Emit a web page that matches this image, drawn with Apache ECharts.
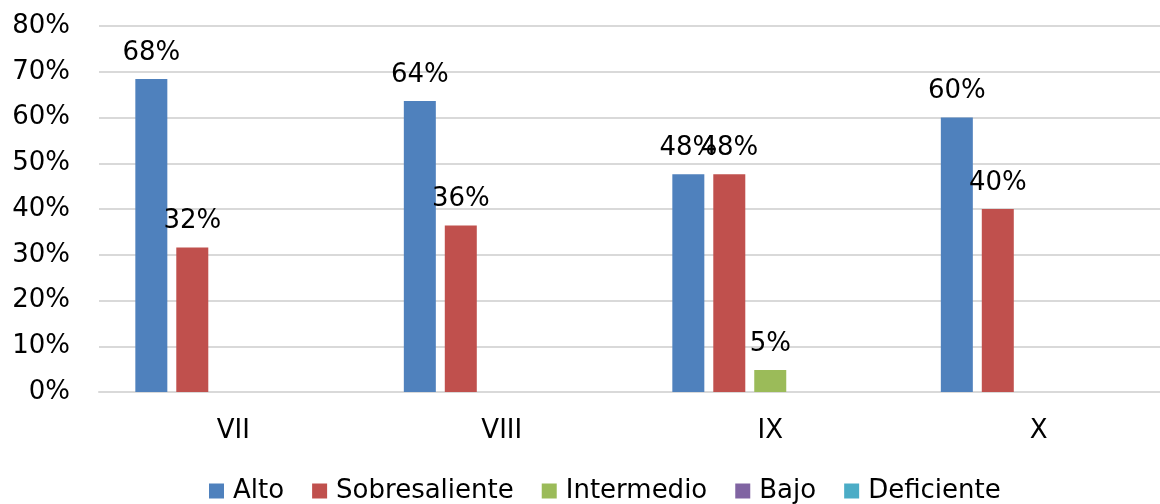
<!DOCTYPE html>
<html>
<head>
<meta charset="utf-8">
<script src="https://cdn.jsdelivr.net/npm/echarts@6/dist/echarts.min.js"></script>
<style>
  html, body { margin: 0; padding: 0; background: #fff; }
  #chart { width: 1160px; height: 504px; }
</style>
</head>
<body>
<div id="chart"></div>
<script>
// grados
const categories = ["VII", "VIII", "IX", "X"];
// porcentajes por nivel
const alto = [68.4, 63.6, 47.6, 60];
const sobresaliente = [31.6, 36.4, 47.6, 40];
const intermedio = [0, 0, 4.8, 0];
const bajo = [0, 0, 0, 0];
const deficiente = [0, 0, 0, 0];
const yTicks = [0, 10, 20, 30, 40, 50, 60, 70, 80];

const names = ["Alto", "Sobresaliente", "Intermedio", "Bajo", "Deficiente"];
const colors = ["#4F81BD", "#C0504D", "#9BBB59", "#8064A2", "#4BACC6"];
const values = [alto, sobresaliente, intermedio, bajo, deficiente];
const font = "DejaVu Sans";

let chart = echarts.init(document.getElementById("chart"));
chart.setOption({
  animation: false,
  color: colors,
  textStyle: { fontFamily: font },
  grid: { left: 99, top: 26, width: 1074, height: 366, containLabel: false, outerBoundsMode: "none" },
  legend: {
    bottom: -5,
    left: 204,
    itemWidth: 15,
    itemHeight: 15,
    itemGap: 28,
    icon: "rect",
    textStyle: { fontSize: 26, color: "#000", fontFamily: font, padding: [0, 0, 0, 4] },
    data: names
  },
  xAxis: {
    type: "category",
    data: categories,
    axisLine: { lineStyle: { color: "#d9d9d9", width: 2 } },
    axisTick: { show: false },
    axisLabel: { fontSize: 26, color: "#000", margin: 26 }
  },
  yAxis: {
    type: "value",
    min: yTicks[0],
    max: yTicks[yTicks.length - 1],
    interval: 10,
    axisLabel: { formatter: "{value}%", fontSize: 26, color: "#000", margin: 29 },
    axisLine: { show: false },
    axisTick: { show: false },
    splitLine: { lineStyle: { color: "#d9d9d9", width: 2 } }
  },
  series: names.map((n, i) => ({
    name: n,
    type: "bar",
    data: values[i],
    barWidth: 32,
    barGap: "28%",
    label: {
      show: true,
      position: "top",
      distance: 13,
      fontSize: 26,
      color: "#000",
      formatter: p => (p.value > 0 ? Math.round(p.value) + "%" : "")
    }
  }))
});
</script>
</body>
</html>
